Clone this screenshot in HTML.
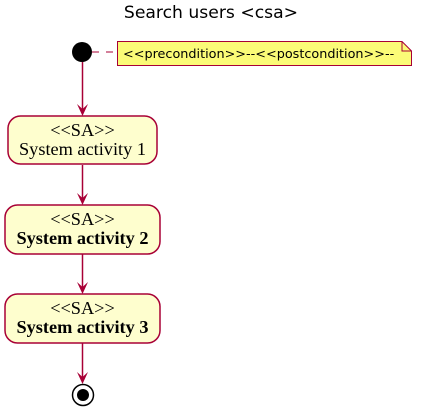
<!DOCTYPE html>
<html><head><meta charset="utf-8"><style>
html,body{margin:0;padding:0;background:#fff;}
svg{display:block;}
</style></head><body>
<svg width="423" height="412" viewBox="0 0 423 412" xmlns="http://www.w3.org/2000/svg">
<text x="211" y="18" text-anchor="middle" font-family="DejaVu Sans, sans-serif" font-size="17.2" fill="#000">Search users &lt;csa&gt;</text>
<circle cx="82" cy="52" r="10" fill="#000"/>
<line x1="92" y1="52" x2="117" y2="52" stroke="#A80036" stroke-width="1" stroke-dasharray="7,7"/>
<path d="M117.5,41.5 H402 L411.5,51 V65.5 H117.5 Z" fill="#FBFB77" stroke="#A80036" stroke-width="1"/>
<path d="M402,41.5 V51 H411.5" fill="none" stroke="#A80036" stroke-width="1"/>
<text x="123" y="58" font-family="DejaVu Sans, sans-serif" font-size="12.8" fill="#000">&lt;&lt;precondition&gt;&gt;--&lt;&lt;postcondition&gt;&gt;--</text>
<g stroke="#A80036" stroke-width="1.5" fill="none">
<line x1="82.5" y1="62" x2="82.5" y2="114"/>
<line x1="82.5" y1="165" x2="82.5" y2="203"/>
<line x1="82.5" y1="254" x2="82.5" y2="292"/>
<line x1="82.5" y1="343" x2="82.5" y2="382"/>
</g>
<g fill="#A80036">
<path d="M77,104 L82.5,116 L88,104 L82.5,109 Z"/>
<path d="M77,193 L82.5,205 L88,193 L82.5,198 Z"/>
<path d="M77,282 L82.5,294 L88,282 L82.5,287 Z"/>
<path d="M77,372 L82.5,384 L88,372 L82.5,377 Z"/>
</g>
<g fill="#FEFECE" stroke="#A80036" stroke-width="1.5">
<rect x="8" y="116" width="149" height="48" rx="12.5"/>
<rect x="5" y="205" width="155" height="49" rx="12.5"/>
<rect x="5" y="294" width="155" height="49" rx="12.5"/>
</g>
<g font-family="Liberation Serif, serif" font-size="18.3" fill="#000" text-anchor="middle">
<text x="82.5" y="136">&lt;&lt;SA&gt;&gt;</text>
<text x="82.5" y="155">System activity 1</text>
<text x="82.5" y="225">&lt;&lt;SA&gt;&gt;</text>
<text x="82.5" y="244" font-weight="bold">System activity 2</text>
<text x="82.5" y="314">&lt;&lt;SA&gt;&gt;</text>
<text x="82.5" y="333" font-weight="bold">System activity 3</text>
</g>
<circle cx="83" cy="395" r="10.5" fill="#fff" stroke="#000" stroke-width="1.5"/>
<circle cx="83" cy="395" r="6" fill="#000"/>
</svg>
</body></html>
